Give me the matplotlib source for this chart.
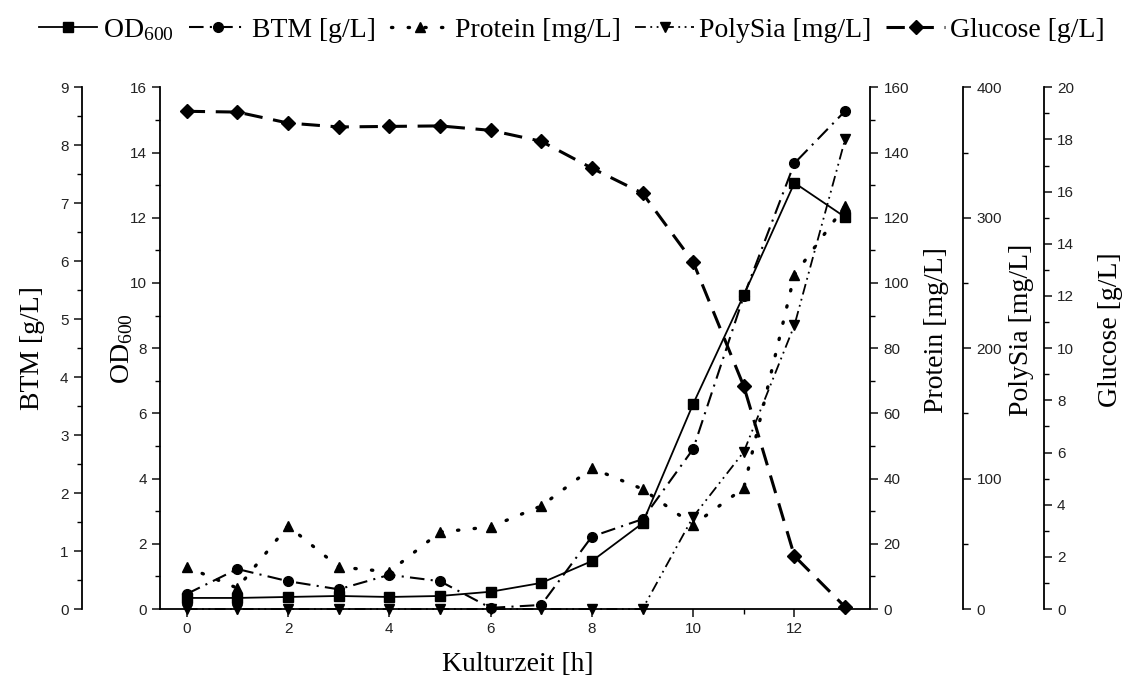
import matplotlib.pyplot as plt
import numpy as np
from matplotlib.ticker import MultipleLocator

plt.rcParams['font.family'] = 'Liberation Sans'
plt.rcParams['mathtext.fontset'] = 'custom'
plt.rcParams['mathtext.rm'] = 'Liberation Serif'
plt.rcParams['mathtext.it'] = 'Liberation Serif:italic'

# data
zeit = np.arange(14)
od600 = [0.34, 0.34, 0.37, 0.40, 0.37, 0.40, 0.53, 0.80, 1.47, 2.63, 6.29, 9.63, 13.07, 12.02]
btm = [0.26, 0.69, 0.48, 0.34, 0.59, 0.48, 0.02, 0.07, 1.25, 1.55, 2.76, 5.40, 7.69, 8.59]
protein = [12.9, 6.4, 25.5, 12.9, 11.4, 23.6, 25.2, 31.6, 43.2, 36.8, 25.8, 37.1, 102.5, 123.6]
polysia = [0, 0, 0, 0, 0, 0, 0, 0, 0, 0, 70.7, 120.5, 217.6, 360.0]
glucose = [19.08, 19.05, 18.63, 18.48, 18.50, 18.52, 18.35, 17.93, 16.90, 15.94, 13.30, 8.54, 2.03, 0.08]

serif = 'Liberation Serif'
lab_size = 20
tick_size = 11

fig, ax = plt.subplots(figsize=(11.26, 6.82), dpi=100)
fig.subplots_adjust(left=0.142, right=0.773, bottom=0.107, top=0.872)

ax_btm = ax.twinx()
ax_prot = ax.twinx()
ax_poly = ax.twinx()
ax_glc = ax.twinx()

# BTM axis on the far left
ax_btm.yaxis.set_ticks_position('left')
ax_btm.yaxis.set_label_position('left')
ax_btm.spines['left'].set_position(('axes', -0.11))
for s in ['top', 'right', 'bottom']:
    ax_btm.spines[s].set_visible(False)

for a, pos in [(ax_prot, 1.0), (ax_poly, 1.131), (ax_glc, 1.244)]:
    a.spines['right'].set_position(('axes', pos))
    for s in ['top', 'left', 'bottom']:
        a.spines[s].set_visible(False)

ax.spines['top'].set_visible(False)
ax.spines['right'].set_visible(False)

ms = 7
l1, = ax.plot(zeit, od600, color='black', lw=1.3, marker='s', ms=ms, clip_on=False,
              label='OD$_{600}$')
l2, = ax_btm.plot(zeit, btm, color='black', lw=1.5, marker='o', ms=ms, clip_on=False,
                  dashes=(7, 3, 1, 3), label='BTM [g/L]')
l3, = ax_prot.plot(zeit, protein, color='black', lw=2.4, marker='^', ms=ms, clip_on=False,
                   dashes=(0.4, 4.6), dash_capstyle='round', label='Protein [mg/L]')
l4, = ax_poly.plot(zeit, polysia, color='black', lw=1.3, marker='v', ms=ms, clip_on=False,
                   dashes=(6, 2.5, 1, 2.5, 1, 2.5), label='PolySia [mg/L]')
l5, = ax_glc.plot(zeit, glucose, color='black', lw=2.2, marker='D', ms=ms, clip_on=False,
                  dashes=(6, 3.5), label='Glucose [g/L]')

ax.set_xlim(-0.53, 13.5)
ax.set_ylim(0, 16)
ax_btm.set_ylim(0, 9)
ax_prot.set_ylim(0, 160)
ax_poly.set_ylim(0, 400)
ax_glc.set_ylim(0, 20)

ax.xaxis.set_major_locator(MultipleLocator(2))
ax.xaxis.set_minor_locator(MultipleLocator(1))
ax.yaxis.set_major_locator(MultipleLocator(2))
ax.yaxis.set_minor_locator(MultipleLocator(1))
ax_btm.yaxis.set_major_locator(MultipleLocator(1))
ax_btm.yaxis.set_minor_locator(MultipleLocator(0.5))
ax_prot.yaxis.set_major_locator(MultipleLocator(20))
ax_prot.yaxis.set_minor_locator(MultipleLocator(10))
ax_poly.yaxis.set_major_locator(MultipleLocator(100))
ax_poly.yaxis.set_minor_locator(MultipleLocator(50))
ax_glc.yaxis.set_major_locator(MultipleLocator(2))
ax_glc.yaxis.set_minor_locator(MultipleLocator(1))

for a in [ax, ax_btm, ax_prot, ax_poly, ax_glc]:
    a.tick_params(which='major', direction='out', length=6, width=1.2, labelsize=tick_size, colors='#222222')
    a.tick_params(which='minor', direction='out', length=3.5, width=1.0)
    for s in a.spines.values():
        s.set_linewidth(1.3)

ax.set_xlabel('Kulturzeit [h]', family=serif, fontsize=lab_size)
ax.set_ylabel('OD$_{600}$', family=serif, fontsize=lab_size)
ax_btm.set_ylabel('BTM [g/L]', family=serif, fontsize=lab_size)
ax_prot.set_ylabel('Protein [mg/L]', family=serif, fontsize=lab_size)
ax_poly.set_ylabel('PolySia [mg/L]', family=serif, fontsize=lab_size)
ax_glc.set_ylabel('Glucose [g/L]', family=serif, fontsize=lab_size)

ax.xaxis.set_label_coords(0.503, -0.082)
ax.yaxis.set_label_coords(-0.035, 0.5)
ax_btm.yaxis.set_label_coords(-0.162, 0.5)
ax_prot.yaxis.set_label_coords(1.076, 0.535)
ax_poly.yaxis.set_label_coords(1.195, 0.535)
ax_glc.yaxis.set_label_coords(1.32, 0.535)

fig.legend(handles=[l1, l2, l3, l4, l5], loc='upper center', bbox_to_anchor=(0.508, 1.012),
           ncol=5, frameon=False, handlelength=2.1, handletextpad=0.2, columnspacing=0.53,
           prop={'family': serif, 'size': lab_size})

fig.savefig('out.png', dpi=100)
